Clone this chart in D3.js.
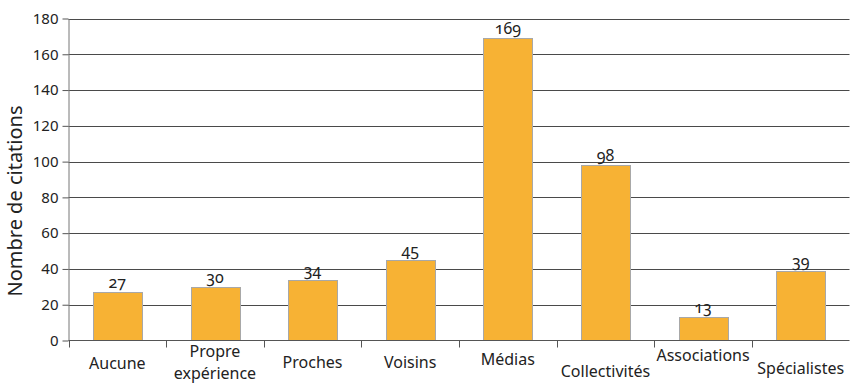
<!DOCTYPE html>
<html><head><meta charset="utf-8">
<script src="https://cdn.jsdelivr.net/npm/d3@7"></script>
<style>body{margin:0;background:#fff}svg{display:block}text{font-family:"Noto Sans","Open Sans",sans-serif;fill:#222}</style>
</head><body><svg id="c" width="850" height="384"></svg>
<script>
const categories = ["Aucune", "Propre expérience", "Proches", "Voisins", "Médias", "Collectivités", "Associations", "Spécialistes"];
const values = [27, 30, 34, 45, 169, 98, 13, 39];
const yTicks = [0, 20, 40, 60, 80, 100, 120, 140, 160, 180];
const yTitle = "Nombre de citations";

(function () {
const svg = d3.select("#c");
const FONT = "'Noto Sans', 'Open Sans', sans-serif";
const mLeft = 68.5, mRight = 849.5, mTop = 18.5, mBottom = 340.5;
const x = d3.scaleBand().domain(categories).range([mLeft, mRight]).padding(0);
const y = d3.scaleLinear().domain([0, 180]).range([mBottom, mTop]);

// gridlines
svg.append("g").selectAll("line").data(yTicks.filter(d => d > 0)).join("line")
  .attr("x1", mLeft).attr("x2", mRight)
  .attr("y1", d => Math.round(y(d)) + 0.5).attr("y2", d => Math.round(y(d)) + 0.5)
  .attr("stroke", "#4a4a4a").attr("stroke-width", 1);

// y axis
const ya = svg.append("g").attr("transform", `translate(${mLeft},0)`)
  .call(d3.axisLeft(y).tickValues(yTicks).tickSize(6).tickSizeOuter(0).tickPadding(4));
ya.select(".domain").attr("stroke", "#777");
ya.selectAll(".tick line").attr("stroke", "#555");
ya.selectAll(".tick text").attr("font-size", 15).attr("fill", "#222").style("font-family", FONT);

// bars
const bw = x.bandwidth() * 0.5;
svg.append("g").selectAll("rect").data(values).join("rect")
  .attr("x", (d, i) => Math.round(x(categories[i]) + x.bandwidth() / 2 - bw / 2) + 0.5)
  .attr("width", Math.round(bw))
  .attr("y", d => Math.round(y(d)) + 0.5)
  .attr("height", d => mBottom - Math.round(y(d)) - 0.5)
  .attr("fill", "#F7B234").attr("stroke", "#A8A8A8").attr("stroke-width", 1);

// x axis
const xa = svg.append("g").attr("transform", `translate(0,${mBottom})`);
xa.append("line").attr("x1", mLeft).attr("x2", mRight).attr("stroke", "#555");
xa.selectAll("line.tk").data(categories.map(c => x(c))).join("line").attr("class", "tk")
  .attr("x1", d => Math.round(d) + 0.5).attr("x2", d => Math.round(d) + 0.5)
  .attr("y1", 0).attr("y2", 7).attr("stroke", "#555");

// category labels (staggered like the original); baselines
const labelY = [369, 357, 368, 368, 365, 377, 361, 374];
svg.append("g").selectAll("text").data(categories).join("text")
  .attr("text-anchor", "middle").attr("font-size", 16)
  .attr("transform", (d, i) => `translate(${x(d) + x.bandwidth() / 2},${labelY[i]})`)
  .each(function(d) {
    const t = d3.select(this);
    const parts = d === "Propre expérience" ? ["Propre", "expérience"] : [d];
    parts.forEach((p, k) => t.append("tspan").attr("x", 0).attr("dy", k === 0 ? 0 : 22).text(p));
  });

// value labels (old-style figures)
svg.append("g").selectAll("text").data(values).join("text")
  .attr("text-anchor", "middle").attr("font-size", 16)
  .style("font-feature-settings", "'onum' 1")
  .attr("x", (d, i) => x(categories[i]) + x.bandwidth() / 2)
  .attr("y", d => y(d) - 4)
  .text(d => d);

// y title
svg.append("text").attr("text-anchor", "middle").attr("font-size", 20)
  .attr("transform", `translate(22,201) rotate(-90)`)
  .text(yTitle);
})();
</script></body></html>
